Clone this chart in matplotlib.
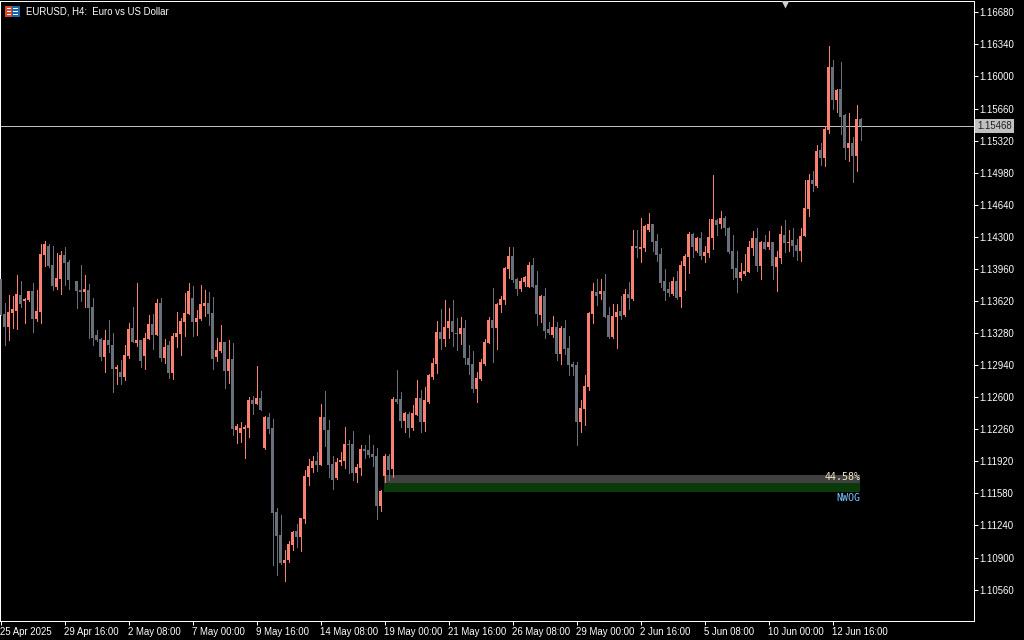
import matplotlib
matplotlib.use('Agg')
import matplotlib.pyplot as plt
from matplotlib.patches import Rectangle
import numpy as np

nan = float('nan')

# EURUSD H4 bars, in points above 1.10000
open_pts = [
    3853,3482,3344,3492,3513,3683,3619,3630,3725,3429,
    3503,4107,4202,4001,3768,3853,4107,4033,nan,3831,
    3736,3715,3736,3556,3259,3217,3026,3206,3153,2899,
    2867,2814,3036,3333,3174,3206,3036,3217,3376,3259,
    3598,3015,3153,2856,3238,3270,3397,3482,3651,3397,
    3429,3566,3598,3492,3026,3089,3185,2877,3005,2252,
    2220,2263,2273,2570,2528,2591,2061,2390,2273,1383,
    1139,842,874,1033,1181,1118,1309,1754,1849,1923,
    1881,2390,2252,1892,1743,1913,1923,2104,2104,1796,
    1849,2051,2040,1998,1976,1446,1764,1976,1839,2581,
    2581,2347,2422,2273,2411,2591,2337,2549,2814,2952,
    3291,3217,3333,3407,3280,3270,3333,3015,2952,2687,
    2793,2952,3174,3418,3333,3577,3630,3959,4096,3853,
    3747,3821,3768,4001,3789,3471,3672,3323,3259,3344,
    3058,3333,3121,2952,2941,2337,2475,2708,3482,3715,
    3694,3725,3471,3238,3450,3513,3471,3694,3641,4202,
    4171,4181,4372,4436,4255,4118,3831,3747,3694,3831,
    3662,3990,4086,4330,4149,4287,4096,4128,4287,4478,
    4436,4499,4393,4149,3969,3863,3906,3927,4181,4287,
    3990,4245,4192,4245,3980,4075,4319,4234,4266,4213,
    4149,4308,4595,4902,4838,5220,5135,5432,6100,5750,
    5867,5591,5241,5294,5156,5549]
high_pts = [
    3853,3598,3683,3672,3895,3831,3651,3725,3810,3736,
    4224,4255,4224,4202,4128,4149,4192,4054,nan,3831,
    4001,3895,3800,3651,3312,3227,3312,3418,3280,2941,
    2994,3153,3386,3556,3810,3206,3280,3471,3482,3641,
    3651,3217,3195,3280,3503,3439,3704,3810,3778,3524,
    3789,3736,3715,3662,3227,3365,3185,3206,3174,2316,
    2337,2305,2602,2612,2930,2665,2400,2432,2369,1425,
    1351,980,1075,1181,1256,1319,1828,1945,1976,2019,
    2528,2665,2358,1976,1955,2019,2284,2146,2241,1892,
    2093,2093,2199,2093,2061,1616,1998,1998,2602,2888,
    2655,2443,2443,2517,2782,2676,2708,2846,3015,3407,
    3535,3630,3545,3630,3439,3450,3418,3153,3089,2867,
    3005,3217,3450,3757,3598,3672,3980,4192,4192,3863,
    3863,3884,4033,4075,3937,3683,3757,3397,3460,3397,
    3354,3418,3248,2973,2973,2570,2835,3503,3810,3853,
    3853,3906,3556,3588,3588,3672,3747,3821,4372,4372,
    4499,4425,4552,4436,4330,4181,3959,3821,3874,3937,
    4043,4118,4351,4340,4298,4351,4202,4489,4955,4489,
    4573,4520,4404,4319,4149,4022,4118,4255,4361,4393,
    4255,4319,4361,4245,4149,4414,4478,4372,4393,4277,
    4393,4902,4966,4997,5273,5294,5474,6322,6174,5867,
    6153,5602,5612,5358,5697,5559]
low_pts = [
    3471,3153,3206,3333,3323,3556,3386,3619,3291,3407,
    3386,3990,3980,3736,3747,3694,3789,3747,nan,3545,
    3619,3556,3227,3153,3195,2994,2867,3079,2655,2740,
    2740,2782,3015,3185,3142,2920,2899,3217,3111,3259,
    2983,2962,2803,2793,3132,3047,3248,3482,3248,3259,
    3418,3460,3365,2899,2983,3079,2697,2750,2199,2114,
    2125,1955,2178,2422,2528,2464,2051,2220,821,715,
    832,651,853,980,1012,969,1266,1669,1807,1817,
    1881,2082,1754,1627,1733,1881,1849,1796,1722,1701,
    1775,1955,1966,1870,1309,1393,1701,1722,1754,2538,
    2284,2231,2178,2252,2411,2231,2241,2538,2793,2856,
    3111,3142,3227,3142,3100,3164,2952,2846,2655,2549,
    2782,2941,3174,2973,3111,3503,3588,3863,3821,3683,
    3725,3778,3768,3768,3365,3397,3227,3270,3238,2994,
    2952,3058,2835,2835,2093,2231,2305,2676,3386,3577,
    3641,3450,3227,3227,3121,3429,3460,3535,3630,4086,
    4033,4149,4361,4149,4043,3768,3630,3672,3683,3641,
    3556,3736,3916,4086,4139,4065,4033,4086,4171,4319,
    4393,4319,4128,3853,3715,3842,3895,3927,4107,3937,
    3853,4171,4171,3853,3725,4022,4139,4149,4096,4054,
    4043,4308,4520,4785,4828,5061,5050,5400,5655,5623,
    5390,5125,5103,4881,4997,5326]
close_pts = [
    3471,3344,3503,3535,3694,3588,3641,3725,3429,3513,
    4118,4224,3990,3778,3863,4107,4022,3842,nan,3725,
    3715,3747,3545,3227,3206,3026,3206,3153,2899,2920,
    2814,3047,3323,3185,3206,2983,3227,3376,3259,3598,
    3015,3132,2856,3248,3280,3407,3492,3725,3397,3439,
    3588,3598,3482,3005,3100,3185,2877,3005,2263,2294,
    2273,2284,2570,2528,2591,2464,2390,2263,1372,1128,
    842,874,1044,1171,1118,1319,1764,1870,1923,1881,
    2390,2252,1881,1722,1913,1934,2104,2093,1796,1860,
    2051,2029,1987,1966,1446,1605,1976,1828,2581,2549,
    2347,2432,2273,2432,2591,2337,2570,2835,2962,3291,
    3217,3344,3407,3291,3270,3333,3015,2941,2687,2803,
    2973,3185,3418,3333,3588,3641,3969,4096,3842,3747,
    3831,3874,4001,3768,3482,3672,3301,3280,3344,3058,
    3333,3111,2941,2920,2337,2485,2719,3492,3725,3672,
    3725,3450,3238,3460,3503,3460,3694,3651,4202,4181,
    4192,4414,4436,4245,4107,3810,3725,3704,3831,3651,
    4001,4096,4330,4192,4287,4096,4139,4298,4489,4425,
    4499,4393,4139,3959,3863,3927,3937,4192,4287,3990,
    4245,4171,4245,3990,4086,4330,4234,4245,4202,4149,
    4308,4605,4902,4860,5209,5135,5443,6100,5750,5856,
    5570,5241,5294,5156,5549,5474]

price_ticks = [1.16680, 1.16340, 1.16000, 1.15660, 1.15320, 1.14980, 1.14640,
               1.14300, 1.13960, 1.13620, 1.13280, 1.12940, 1.12600, 1.12260,
               1.11920, 1.11580, 1.11240, 1.10900, 1.10560]
date_labels = ['25 Apr 2025', '29 Apr 16:00', '2 May 08:00', '7 May 00:00',
               '9 May 16:00', '14 May 08:00', '19 May 00:00', '21 May 16:00',
               '26 May 08:00', '29 May 00:00', '2 Jun 16:00', '5 Jun 08:00',
               '10 Jun 00:00', '12 Jun 16:00']
bars_per_label = 16

last_price = 1.15468
gap_top = 1.11775       # grey part of the box
gap_mid = 1.11690
gap_bottom = 1.11595    # green part
gap_first_bar = 96
gap_last_bar = 215
chart_shift_bar = 196

UP = '#fa8072'
DOWN = '#6a7079'
FG = 'white'

plt.rcParams['font.family'] = ['Liberation Sans', 'DejaVu Sans']

W, H = 1024, 640
fig = plt.figure(figsize=(W / 100, H / 100), dpi=100, facecolor='black')
ax = fig.add_axes([0, 1 - 621 / H, 973.5 / W, 620.5 / H], facecolor='black')

o = 1.1 + np.array(open_pts) / 1e5
h = 1.1 + np.array(high_pts) / 1e5
l = 1.1 + np.array(low_pts) / 1e5
c = 1.1 + np.array(close_pts) / 1e5
bars = np.arange(len(o))
colors = [UP if a >= b else DOWN for a, b in zip(c, o)]

# the box sits behind the candles
box_x = [gap_first_bar - 0.1, gap_last_bar - 0.1]
ax.fill_between(box_x, gap_mid, gap_top, color='#404040', lw=0, antialiased=False, zorder=1)
ax.fill_between(box_x, gap_bottom, gap_mid, color='#0a3a0a', lw=0, antialiased=False, zorder=1)
ax.axhline(last_price + 0.00005, color='#c0c0c0', lw=0.72, antialiased=False, zorder=1.5)

ax.vlines(bars, l, h, colors=colors, lw=0.72, antialiased=False, zorder=2)
ax.bar(bars, np.abs(c - o), bottom=np.minimum(o, c), width=0.75, color=colors, antialiased=False, zorder=3)

ax.set_xlim(-0.125, 973.5 / 4 - 0.125)
ax.set_ylim(1.10227, 1.16805)

ax.yaxis.tick_right()
ax.set_yticks(price_ticks)
ax.set_yticklabels(['%.5f' % p for p in price_ticks])
ax.set_xticks(bars[::bars_per_label][:len(date_labels)])
ax.set_xticklabels(date_labels, ha='left')
ax.tick_params(colors=FG, width=0.72, length=3, labelsize=6.9, pad=1.5)
for s in ax.spines.values():
    s.set_color(FG)
    s.set_linewidth(0.72)

# price tag on the axis
trans = ax.get_yaxis_transform()
ax.text(1.0036, last_price + 0.00005, '%.5f' % last_price, transform=trans, fontsize=6.9, color='#202020', va='center', ha='left',
        bbox=dict(fc='#c0c0c0', ec='none', pad=1.6), clip_on=False, zorder=5)

# chart shift marker
ax.plot([chart_shift_bar], [0.9975], marker='v', ms=8, color='#d0d0d0', mec='none', transform=ax.get_xaxis_transform(), clip_on=True, zorder=5)

ax.text(gap_last_bar - 0.1, 1.11755, '44.58%', family='DejaVu Sans Mono', fontsize=7.2, color='#f5e6c4', ha='right', va='center', zorder=6)
ax.text(gap_last_bar - 0.1, 1.11535, 'NWOG', family='DejaVu Sans Mono', fontsize=7.2, color='#7cc4ff', ha='right', va='center', zorder=6)

# symbol title and flag
fig.text(25.5 / W, 1 - 11.5 / H, 'EURUSD, H4:  Euro vs US Dollar', color=FG, fontsize=6.9, va='center', ha='left')


def px_rect(x, y, w, hgt, col):
    fig.add_artist(Rectangle((x / W, 1 - (y + hgt) / H), w / W, hgt / H, transform=fig.transFigure,
                             fc=col, ec='none', antialiased=False))


px_rect(5, 6, 7, 11, '#d8452e')
px_rect(12, 6, 8, 11, '#1565a8')
for row in (8, 11, 14):
    px_rect(7, row, 4, 1, 'white')
    px_rect(13, row, 5, 1, 'white')

fig.savefig('out.png', dpi=100, facecolor='black')
